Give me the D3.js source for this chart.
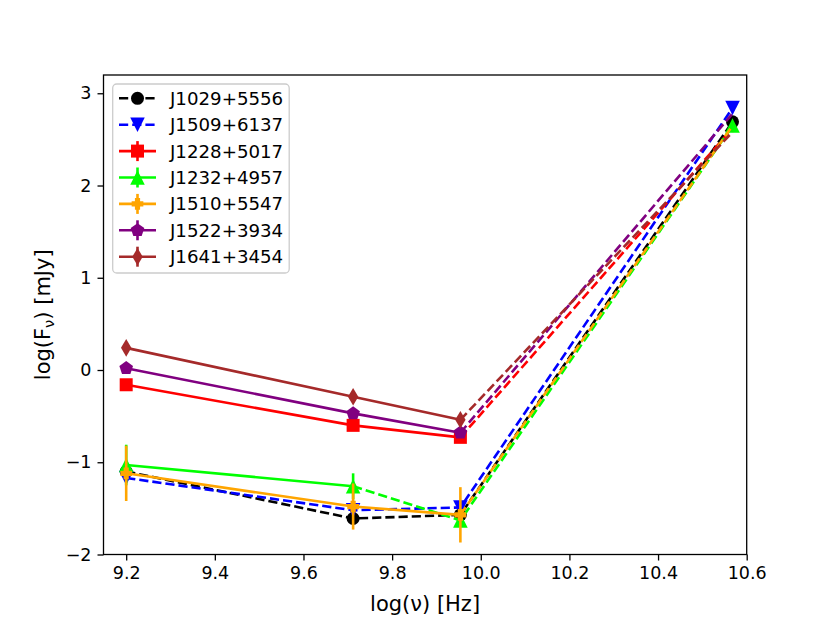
<!DOCTYPE html>
<html>
<head>
<meta charset="utf-8">
<script src="https://cdn.jsdelivr.net/npm/d3@7"></script>
<style>
  body { margin: 0; background: #fff; }
  svg text { font-family: "DejaVu Sans", sans-serif; }
</style>
</head>
<body>
<script>
// log frequencies of the four bands
var freqs = [9.2, 9.712, 9.954, 10.568];

var sourceNames = ["J1029+5556", "J1509+6137", "J1228+5017", "J1232+4957",
                   "J1510+5547", "J1522+3934", "J1641+3454"];
var sourceColors = ["black", "blue", "red", "#00ff00", "orange", "purple", "brown"];
var sourceMarkers = ["circle", "triDown", "square", "triUp", "plus", "pentagon", "thinDiamond"];

// log flux per source
var fluxJ1029 = [-1.10, -1.61, -1.57, 2.69];
var fluxJ1509 = [-1.17, -1.52, -1.49, 2.84];
var fluxJ1228 = [-0.16, -0.60, -0.73, 2.62];
var fluxJ1232 = [-1.03, -1.26, -1.63, 2.65];
var fluxJ1510 = [-1.12, -1.48, -1.57, 2.65];
var fluxJ1522 = [0.02, -0.47, -0.68, 2.78];
var fluxJ1641 = [0.24, -0.29, -0.54, 2.58];

// error bars (null = none)
var errJ1228 = [0.03, 0.03, 0.03];
var errJ1232 = [0.22, 0.14, 0.05];
var errJ1510 = [0.30, 0.25, 0.30];
var errJ1522 = [0.03, 0.03, 0.03];
var errJ1641 = [0.03, 0.03, 0.03];

var allFlux = [fluxJ1029, fluxJ1509, fluxJ1228, fluxJ1232, fluxJ1510, fluxJ1522, fluxJ1641];
var allErr = [null, null, errJ1228, errJ1232, errJ1510, errJ1522, errJ1641];
// index of the point where the dashed part starts
var dashFrom = [0, 0, 2, 1, 2, 2, 2];
var markerOnLast = [true, true, false, true, false, false, false];

var xTicks = [9.2, 9.4, 9.6, 9.8, 10.0, 10.2, 10.4, 10.6];
var yTicks = [-2, -1, 0, 1, 2, 3];

var W = 830, H = 623;
var axL = 103.5, axR = 746.7, axT = 75, axB = 554.5;

var svg = d3.select("body").append("svg")
    .attr("width", W).attr("height", H);

var x = d3.scaleLinear().domain([9.1488, 10.6]).range([axL, axR]);
var y = d3.scaleLinear().domain([-2.0, 3.198]).range([axB, axT]);

var lw = 2.6;
var dash = "9.2,4";
var mSize = 13;
var tickFont = 17.5, legendFont = 18.2, labelFont = 21;

var line = d3.line()
    .x(function(d){ return x(d[0]); })
    .y(function(d){ return y(d[1]); });

function markerPath(type, s) {
    var r = s / 2;
    switch (type) {
        case "circle":
            return d3.symbol(d3.symbolCircle, Math.PI * r * r)();
        case "square":
            return "M" + (-r) + "," + (-r) + "h" + s + "v" + s + "h" + (-s) + "Z";
        case "triUp":
            r = r * 1.12;
            return "M0," + (-r) + "L" + r + "," + r + "L" + (-r) + "," + r + "Z";
        case "triDown":
            r = r * 1.12;
            return "M0," + r + "L" + r + "," + (-r) + "L" + (-r) + "," + (-r) + "Z";
        case "pentagon":
            var pts = [];
            for (var k = 0; k < 5; k++) {
                var a = -Math.PI / 2 + k * 2 * Math.PI / 5;
                pts.push([r * 1.1 * Math.cos(a), r * 1.1 * Math.sin(a)]);
            }
            return "M" + pts.join("L") + "Z";
        case "thinDiamond":
            return "M0," + (-r * 1.35) + "L" + (r * 0.8) + ",0L0," + (r * 1.35) + "L" + (-r * 0.8) + ",0Z";
        case "plus":
            var t = r * 0.4, q = r * 0.9;
            return "M" + (-t) + "," + (-q) + "H" + t + "V" + (-t) + "H" + q + "V" + t + "H" + t +
                   "V" + q + "H" + (-t) + "V" + t + "H" + (-q) + "V" + (-t) + "H" + (-t) + "Z";
    }
}

var plot = svg.append("g");

allFlux.forEach(function(fl, si) {
    var col = sourceColors[si];
    var pts = freqs.map(function(f, i){ return [f, fl[i]]; });
    var g = plot.append("g");

    // error bars
    if (allErr[si]) {
        allErr[si].forEach(function(e, i) {
            g.append("line")
                .attr("x1", x(freqs[i])).attr("x2", x(freqs[i]))
                .attr("y1", y(fl[i] - e)).attr("y2", y(fl[i] + e))
                .attr("stroke", col).attr("stroke-width", lw);
        });
    }

    var df = dashFrom[si];
    if (df > 0) {
        g.append("path").datum(pts.slice(0, df + 1))
            .attr("d", line).attr("fill", "none")
            .attr("stroke", col).attr("stroke-width", lw)
            .attr("stroke-linejoin", "round");
    }
    g.append("path").datum(pts.slice(df))
        .attr("d", line).attr("fill", "none")
        .attr("stroke", col).attr("stroke-width", lw)
        .attr("stroke-dasharray", dash);

    var n = markerOnLast[si] ? pts.length : pts.length - 1;
    g.selectAll("path.mk").data(pts.slice(0, n)).enter()
        .append("path").attr("class", "mk")
        .attr("d", markerPath(sourceMarkers[si], mSize))
        .attr("transform", function(d){ return "translate(" + x(d[0]) + "," + y(d[1]) + ")"; })
        .attr("fill", col);
});

// axes
var xAxis = d3.axisBottom(x).tickValues(xTicks).tickSize(6).tickPadding(6)
    .tickFormat(d3.format(".1f"));
var yAxis = d3.axisLeft(y).tickValues(yTicks).tickSize(6).tickPadding(6)
    .tickFormat(function(d){ return d < 0 ? "\u2212" + Math.abs(d) : d; });

var gx = svg.append("g").attr("transform", "translate(0," + axB + ")").call(xAxis);
var gy = svg.append("g").attr("transform", "translate(" + axL + ",0)").call(yAxis);
[gx, gy].forEach(function(g) {
    g.select(".domain").remove();
    g.selectAll("line").attr("stroke", "black").attr("stroke-width", 1.3);
    g.selectAll("text").attr("font-size", tickFont).attr("fill", "black")
        .style("font-family", "DejaVu Sans");
});

svg.append("rect")
    .attr("x", axL).attr("y", axT)
    .attr("width", axR - axL).attr("height", axB - axT)
    .attr("fill", "none").attr("stroke", "black").attr("stroke-width", 1.3);

// axis labels
svg.append("text")
    .attr("x", (axL + axR) / 2).attr("y", 611)
    .attr("text-anchor", "middle").attr("font-size", labelFont)
    .text("log(\u03bd) [Hz]");

var yl = svg.append("text")
    .attr("transform", "translate(50," + ((axT + axB) / 2) + ") rotate(-90)")
    .attr("text-anchor", "middle").attr("font-size", labelFont);
yl.append("tspan").text("log(F");
yl.append("tspan").attr("font-size", labelFont * 0.7).attr("dy", 4).text("\u03bd");
yl.append("tspan").attr("dy", -4).text(") [mJy]");

// legend
var lg = svg.append("g");
lg.append("rect")
    .attr("x", 112.7).attr("y", 84).attr("width", 176.5).attr("height", 189)
    .attr("rx", 4).attr("fill", "white").attr("fill-opacity", 0.8)
    .attr("stroke", "#cccccc").attr("stroke-width", 1.3);

sourceNames.forEach(function(name, i) {
    var cy = 98.3 + i * 26.4;
    var col = sourceColors[i];
    var row = lg.append("g");
    row.append("line")
        .attr("x1", 119).attr("x2", 156).attr("y1", cy).attr("y2", cy)
        .attr("stroke", col).attr("stroke-width", lw)
        .attr("stroke-dasharray", dashFrom[i] === 0 ? dash : null);
    if (allErr[i]) {
        row.append("line")
            .attr("x1", 137.5).attr("x2", 137.5).attr("y1", cy - 10).attr("y2", cy + 10)
            .attr("stroke", col).attr("stroke-width", lw);
    }
    row.append("path")
        .attr("d", markerPath(sourceMarkers[i], mSize))
        .attr("transform", "translate(137.5," + cy + ")")
        .attr("fill", col);
    row.append("text")
        .attr("x", 170).attr("y", cy + 6.5)
        .attr("font-size", legendFont).text(name);
});
</script>
</body>
</html>
